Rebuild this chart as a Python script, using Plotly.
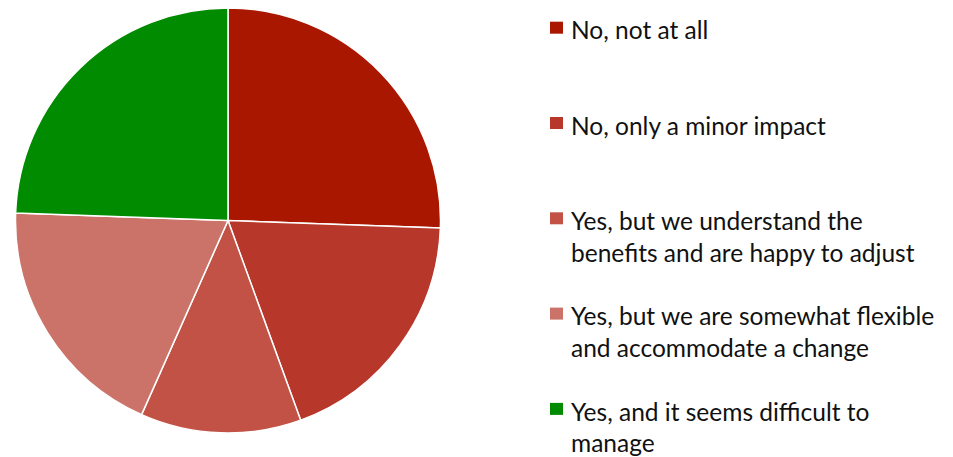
import plotly.graph_objects as go

# Survey responses
labels = [
    "No, not at all",
    "No, only a minor impact",
    "Yes, but we understand the<br>benefits and are happy to adjust",
    "Yes, but we are somewhat flexible<br>and accommodate a change",
    "Yes, and it seems difficult to<br>manage",
]
counts = [23, 17, 11, 17, 22]
colors = ["#AA1700", "#B7382A", "#C15245", "#CB7369", "#008B00"]

W, H = 953, 457

fig = go.Figure(
    go.Pie(
        labels=labels,
        values=counts,
        sort=False,
        direction="clockwise",
        rotation=0,
        textinfo="none",
        hoverinfo="label+value+percent",
        marker=dict(colors=colors, line=dict(color="white", width=1.5)),
        domain=dict(x=[15.5 / W, 440.5 / W], y=[1 - 433 / H, 1 - 8 / H]),
        showlegend=False,
    )
)

# Legend drawn beside the pie: coloured square plus wrapped label lines
font = dict(family="Lato, Carlito, Calibri, sans-serif", size=24.5, color="#111111")
first_top = 21.7
step = 95.3
line_gap = 31.5
for i, (lab, col) in enumerate(zip(labels, colors)):
    top = first_top + i * step
    fig.add_shape(
        type="rect", xref="paper", yref="paper",
        x0=550 / W, x1=563 / W, y0=1 - top / H, y1=1 - (top + 12) / H,
        fillcolor=col, line=dict(width=0),
    )
    for j, line in enumerate(lab.split("<br>")):
        baseline = top + 16.7 + j * line_gap
        fig.add_annotation(
            xref="paper", yref="paper", x=569 / W, y=1 - (baseline + 8) / H,
            xanchor="left", yanchor="bottom", text=line, showarrow=False,
            font=font, align="left",
        )

fig.update_layout(
    width=W, height=H,
    margin=dict(l=0, r=0, t=0, b=0),
    paper_bgcolor="white",
    plot_bgcolor="white",
)

fig.write_html("out.html")
